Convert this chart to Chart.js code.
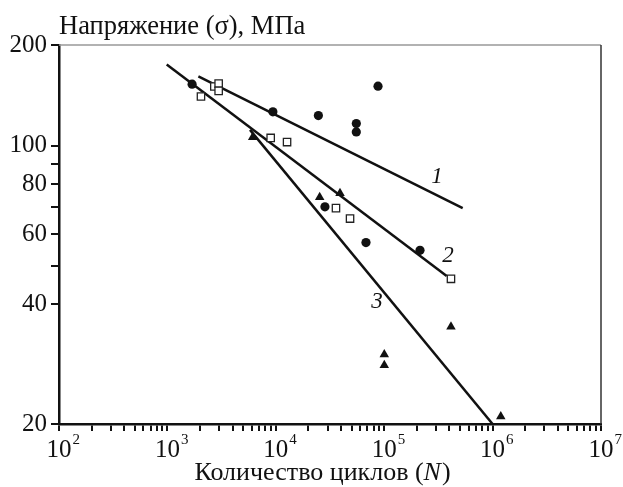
<!DOCTYPE html>
<html>
<head>
<meta charset="utf-8">
<script src="https://cdn.jsdelivr.net/npm/chart.js@4.4.0/dist/chart.umd.min.js"></script>
<style>
  html, body { margin: 0; padding: 0; background: #fff; }
</style>
</head>
<body>
<canvas id="fatigue" width="623" height="487"></canvas>
<script>
// точки (N, σ), прочитанные с рисунка по делениям 20...100
const circleN = [1690, 9400, 24700, 55300, 55300, 87700, 28400, 67900, 214000];
const circleS = [142.7, 121.6, 119.0, 113.7, 108.3, 141.1, 70.2, 57.1, 54.6];

const squareN = [2040, 2710, 2970, 2970, 8970, 12700, 35900, 48400, 413000];
const squareS = [132.9, 140.8, 143.2, 137.3, 104.6, 102.1, 69.7, 65.6, 46.3];

const triangleN = [6120, 25400, 39100, 413000, 100200, 100200, 1190000];
const triangleS = [105.0, 74.2, 76.0, 35.1, 29.9, 28.1, 20.9];

// прямые 1, 2, 3 (начало и конец)
const line1N = [1930, 530000];
const line1S = [149.2, 69.7];
const line2N = [985, 377000];
const line2S = [159.9, 47.1];
const line3N = [5780, 1000000];
const line3S = [109.6, 20];

// подписи прямых
const lineTags = ['1', '2', '3'];
const tagN = [307000, 388000, 85900];
const tagS = [83.6, 52.9, 40.6];

const xTicks = [];
for (let k = 2; k < 7; k++) {
    for (let m = 1; m < 10; m++) xTicks.push(m * Math.pow(10, k));
}
xTicks.push(1e7);
const xLabelPowers = [2, 3, 4, 5, 6, 7];

// в оригинале верх оси подписан "200", хотя по шкале 20..100 там ~179
const yTop = 179;
const yTicks = [20, 40, 50, 60, 70, 80, 90, 100, yTop];
const yLabels = [20, 40, 60, 80, 100];

const serif = "'Liberation Serif', 'Times New Roman', serif";

function pts(xs, ys) {
    return xs.map((x, i) => ({ x: x, y: ys[i] }));
}

function lineSet(xs, ys) {
    return {
        type: 'line',
        data: pts(xs, ys),
        borderColor: '#111',
        borderWidth: 2.5,
        pointRadius: 0,
        fill: false,
        order: 2
    };
}

const decor = {
    id: 'decor',
    afterDraw(chart) {
        const { ctx, chartArea: a, scales: { x, y } } = chart;
        ctx.save();

        // рамка сверху и справа
        ctx.lineWidth = 1.5;
        ctx.strokeStyle = '#999';
        ctx.beginPath();
        ctx.moveTo(a.left, a.top);
        ctx.lineTo(a.right, a.top);
        ctx.stroke();
        ctx.strokeStyle = '#333';
        ctx.beginPath();
        ctx.moveTo(a.right, a.top);
        ctx.lineTo(a.right, a.bottom);
        ctx.stroke();

        ctx.fillStyle = '#111';

        // заголовок оси Y
        ctx.font = '26.5px ' + serif;
        ctx.textAlign = 'left';
        ctx.textBaseline = 'alphabetic';
        ctx.fillText('Напряжение (σ), МПа', a.left, 34);

        // подписи оси X: 10^k
        xLabelPowers.forEach(k => {
            const px = x.getPixelForValue(Math.pow(10, k));
            ctx.font = '25px ' + serif;
            ctx.textAlign = 'center';
            ctx.fillText('10', px, 457);
            const w = ctx.measureText('10').width;
            ctx.font = '15px ' + serif;
            ctx.textAlign = 'left';
            ctx.fillText(String(k), px + w / 2 + 1, 444);
        });

        // заголовок оси X
        const partA = 'Количество циклов (';
        const partN = 'N';
        const partB = ')';
        ctx.font = '26px ' + serif;
        const wA = ctx.measureText(partA).width;
        const wB = ctx.measureText(partB).width;
        ctx.font = 'italic 26px ' + serif;
        const wN = ctx.measureText(partN).width;
        let sx = 322 - (wA + wN + wB) / 2;
        ctx.textAlign = 'left';
        ctx.font = '26px ' + serif;
        ctx.fillText(partA, sx, 480);
        ctx.font = 'italic 26px ' + serif;
        ctx.fillText(partN, sx + wA, 480);
        ctx.font = '26px ' + serif;
        ctx.fillText(partB, sx + wA + wN + 1, 480);

        // номера прямых
        ctx.font = 'italic 23px ' + serif;
        ctx.textAlign = 'center';
        ctx.textBaseline = 'middle';
        lineTags.forEach((t, i) => {
            ctx.fillText(t, x.getPixelForValue(tagN[i]), y.getPixelForValue(tagS[i]));
        });

        ctx.restore();
    }
};

new Chart(document.getElementById('fatigue'), {
    type: 'scatter',
    data: {
        datasets: [
            lineSet(line1N, line1S),
            lineSet(line2N, line2S),
            lineSet(line3N, line3S),
            {
                data: pts(circleN, circleS),
                pointStyle: 'circle',
                pointRadius: 4.6,
                backgroundColor: '#111',
                borderColor: '#111',
                borderWidth: 0,
                order: 1
            },
            {
                data: pts(squareN, squareS),
                pointStyle: 'rect',
                pointRadius: 5.2,
                backgroundColor: '#fff',
                borderColor: '#222',
                borderWidth: 1.3,
                order: 1
            },
            {
                data: pts(triangleN, triangleS),
                pointStyle: 'triangle',
                pointRadius: 5.5,
                backgroundColor: '#111',
                borderColor: '#111',
                borderWidth: 0,
                order: 1
            }
        ]
    },
    options: {
        responsive: false,
        animation: false,
        devicePixelRatio: 1,
        layout: { padding: { top: 45, right: 22, bottom: 0, left: 0 } },
        plugins: {
            legend: { display: false },
            tooltip: { enabled: false }
        },
        scales: {
            x: {
                type: 'logarithmic',
                min: 100,
                max: 1e7,
                border: { color: '#111', width: 2.5 },
                grid: { drawOnChartArea: false, drawTicks: true, tickLength: 7, color: '#111', lineWidth: 2 },
                ticks: { display: false, autoSkip: false },
                afterBuildTicks: s => { s.ticks = xTicks.map(v => ({ value: v })); },
                afterFit: s => { s.height = 63; }
            },
            y: {
                type: 'logarithmic',
                min: 20,
                max: yTop,
                border: { color: '#111', width: 2.5 },
                grid: { drawOnChartArea: false, drawTicks: true, tickLength: 8, color: '#111', lineWidth: 2 },
                ticks: {
                    autoSkip: false,
                    padding: 4,
                    color: '#111',
                    font: { family: serif, size: 25 },
                    callback: v => v === yTop ? '200' : (yLabels.includes(v) ? String(v) : '')
                },
                afterBuildTicks: s => { s.ticks = yTicks.map(v => ({ value: v })); },
                afterFit: s => { s.width = 59; }
            }
        }
    },
    plugins: [decor]
});
</script>
</body>
</html>
